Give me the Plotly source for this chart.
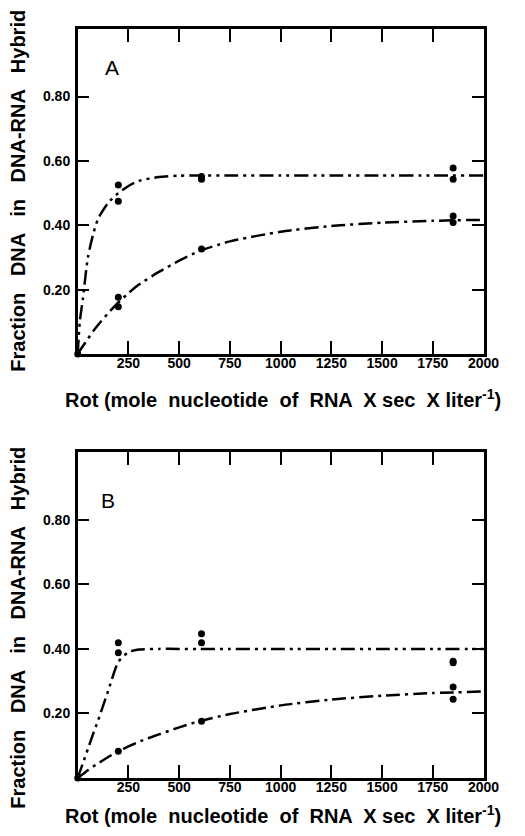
import plotly.graph_objects as go

# Rot values used to trace the fitted curves
rot_curve = [0, 10, 25, 50, 75, 100, 150, 200, 250, 300, 400, 500, 600,
             750, 1000, 1250, 1500, 1750, 2000]

# Panel A curves
a_fast = [0, 0.10, 0.17, 0.30, 0.37, 0.42, 0.47, 0.50, 0.522, 0.538, 0.55,
          0.554, 0.555, 0.555, 0.555, 0.555, 0.555, 0.555, 0.555]
a_slow = [0, 0.010, 0.024, 0.047, 0.07, 0.09, 0.127, 0.16, 0.189, 0.215,
          0.255, 0.29, 0.32, 0.35, 0.38, 0.398, 0.408, 0.414, 0.417]

# Panel B curves
b_fast = [0, 0.018, 0.045, 0.09, 0.135, 0.178, 0.27, 0.36, 0.39, 0.398,
          0.40, 0.40, 0.40, 0.40, 0.40, 0.40, 0.40, 0.40, 0.40]
b_slow = [0, 0.005, 0.012, 0.024, 0.035, 0.045, 0.065, 0.083, 0.098, 0.112,
          0.135, 0.157, 0.176, 0.198, 0.225, 0.243, 0.255, 0.263, 0.268]

# measured points
a_fast_x = [0, 200, 200, 610, 610, 1850, 1850]
a_fast_y = [0, 0.525, 0.475, 0.552, 0.543, 0.578, 0.543]
a_slow_x = [200, 200, 610, 1850, 1850]
a_slow_y = [0.176, 0.147, 0.326, 0.429, 0.409]

b_fast_x = [0, 200, 200, 610, 610, 1850, 1850]
b_fast_y = [0, 0.419, 0.388, 0.447, 0.419, 0.362, 0.357]
b_slow_x = [200, 610, 1850, 1850]
b_slow_y = [0.083, 0.176, 0.282, 0.244]

x_ticks = [250, 500, 750, 1000, 1250, 1500, 1750, 2000]
x_labels = ['250', '500', '750', '1000', '1250', '1500', '1750', '2000']
y_ticks = [0.2, 0.4, 0.6, 0.8]
y_labels = ['0.20', '0.40', '0.60', '0.80']

FONT = 'Liberation Sans'
# the page body keeps its 8px margin: canvas sits at (8, 8), sized so nothing scrolls
OFF = 8
W, H = 509, 820
DASH_DOT = '14px,5px,3px,5px'
DASH_DOT_DOT = '14px,5px,3px,5px,3px,5px'


def px(X):
    return (X - OFF) / W


def py(Y):
    return 1 - (Y - OFF) / H


fig = go.Figure()

panels = [
    ('x', 'y', a_fast, a_slow, a_fast_x, a_fast_y, a_slow_x, a_slow_y),
    ('x2', 'y2', b_fast, b_slow, b_fast_x, b_fast_y, b_slow_x, b_slow_y),
]
for xa, ya, fast, slow, fx, fy, sx, sy in panels:
    fig.add_trace(go.Scatter(x=rot_curve, y=fast, mode='lines', xaxis=xa, yaxis=ya,
                             line=dict(color='black', width=2.5, dash=DASH_DOT_DOT,
                                       shape='spline', smoothing=0.6),
                             showlegend=False))
    fig.add_trace(go.Scatter(x=rot_curve, y=slow, mode='lines', xaxis=xa, yaxis=ya,
                             line=dict(color='black', width=2.5, dash=DASH_DOT,
                                       shape='spline', smoothing=0.6),
                             showlegend=False))
    fig.add_trace(go.Scatter(x=fx + sx, y=fy + sy, mode='markers', xaxis=xa, yaxis=ya,
                             marker=dict(color='black', size=7),
                             showlegend=False, cliponaxis=False))

xdom = [px(80), px(499)]
ydom_a = [py(354), py(29)]
ydom_b = [py(778), py(452)]

xaxis_style = dict(range=[0, 2000], domain=xdom, tickmode='array', tickvals=x_ticks,
                   ticktext=x_labels, ticks='inside', ticklen=13, tickwidth=2,
                   tickcolor='black', showline=True, linecolor='black', linewidth=2.5,
                   mirror='ticks', showgrid=False, zeroline=False, ticklabelstandoff=-6,
                   tickfont=dict(family=FONT, size=14, color='black', weight='bold'))
yaxis_style = dict(range=[0, 1.01], tickmode='array', tickvals=y_ticks,
                   ticktext=y_labels, ticks='inside', ticklen=12, tickwidth=2,
                   tickcolor='black', showline=True, linecolor='black', linewidth=2.5,
                   mirror='ticks', showgrid=False, zeroline=False, ticklabelstandoff=2,
                   tickfont=dict(family=FONT, size=14, color='black', weight='bold'))

fig.update_layout(
    width=W, height=H,
    margin=dict(l=0, r=0, t=0, b=0),
    paper_bgcolor='white', plot_bgcolor='white',
    xaxis=dict(xaxis_style, anchor='y'),
    yaxis=dict(yaxis_style, domain=ydom_a, anchor='x'),
    xaxis2=dict(xaxis_style, anchor='y2'),
    yaxis2=dict(yaxis_style, domain=ydom_b, anchor='x2'),
)

ytitle = 'Fraction   DNA   in   DNA-RNA   Hybrid'
xtitle = 'Rot (mole  nucleotide  of  RNA  X sec  X liter<sup>-1</sup>)'

for yc in [191, 628]:
    fig.add_annotation(text=ytitle, xref='paper', yref='paper', x=px(18), y=py(yc),
                       xanchor='center', yanchor='middle', textangle=-90, showarrow=False,
                       font=dict(family=FONT, size=20, color='black', weight='bold'))
for yc in [398, 814]:
    fig.add_annotation(text=xtitle, xref='paper', yref='paper', x=px(292), y=py(yc),
                       xanchor='center', yanchor='middle', showarrow=False,
                       font=dict(family=FONT, size=20, color='black', weight='bold'))

fig.add_annotation(text='A', xref='paper', yref='paper', x=px(115), y=py(68),
                   xanchor='center', yanchor='middle', showarrow=False,
                   font=dict(family=FONT, size=21, color='black'))
fig.add_annotation(text='B', xref='paper', yref='paper', x=px(111), y=py(500),
                   xanchor='center', yanchor='middle', showarrow=False,
                   font=dict(family=FONT, size=21, color='black'))

fig.write_html('out.html')
